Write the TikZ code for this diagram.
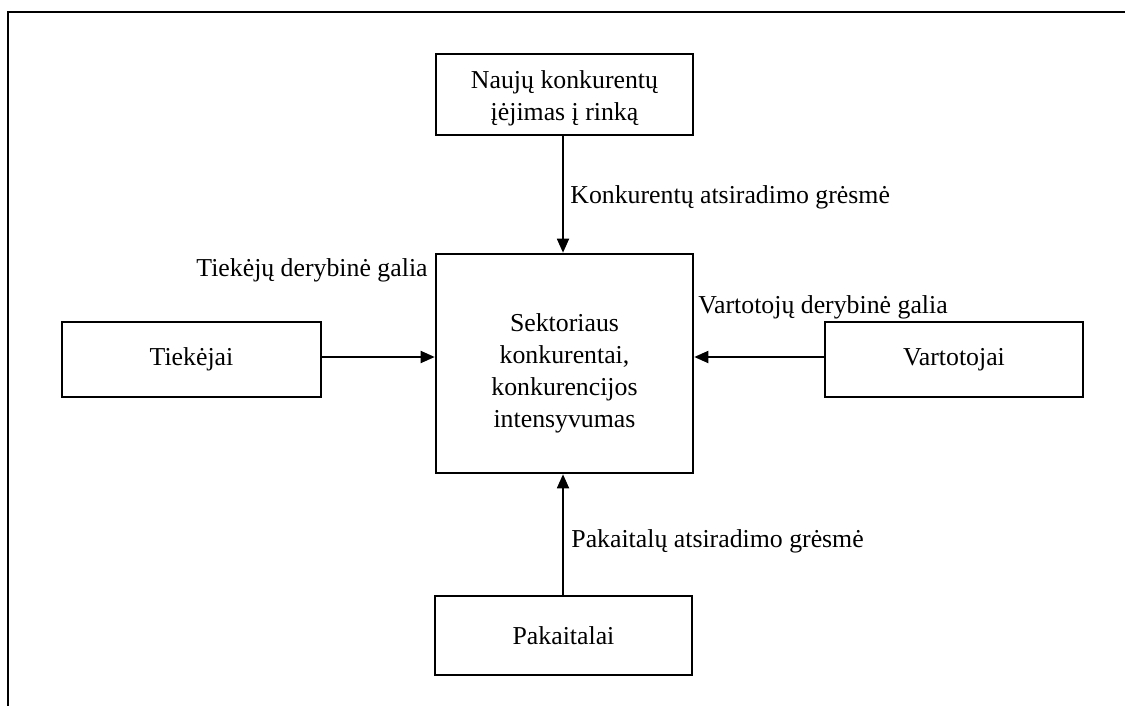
\documentclass[tikz,border=0pt]{standalone}
\usepackage{fontspec}
\setmainfont{Liberation Serif}
\usetikzlibrary{arrows.meta}
% centred lines, drawn a little lower than their box's middle
\newcommand{\lowlines}[2]{\raisebox{-#1}[\height][\depth]{\begin{tabular}{@{}c@{}}#2\end{tabular}}}
\begin{document}
\begin{tikzpicture}[x=0.5pt,y=-0.5pt,
  box/.style={draw,line width=1.3pt,align=center,inner sep=0pt,
    font=\fontsize{12.9}{16}\selectfont},
  lbl/.style={inner sep=0pt,font=\fontsize{12.9}{16}\selectfont},
  arr/.style={line width=0.9pt,-{Triangle[length=7pt,width=6pt]}}]
\useasboundingbox (0,0) rectangle (1125,706);
% open frame: top rule and left rule
\draw[line width=1.2pt] (8,706) -- (8,12) -- (1125,12);
% the five forces
\node[box,minimum width=128.5pt,minimum height=40.5pt] (naujuju) at (564.5,94.5)
  {\lowlines{2pt}{Naujų konkurentų\\įėjimas į rinką}};
\node[box,minimum width=128.5pt,minimum height=109.5pt] (sekt) at (564.5,363.5)
  {\lowlines{5pt}{Sektoriaus\\konkurentai,\\konkurencijos\\intensyvumas}};
\node[box,minimum width=129.5pt,minimum height=37.5pt] (tiek) at (191.5,359.5) {Tiekėjai};
\node[box,minimum width=129pt,minimum height=37.5pt] (vart) at (954,359.5) {Vartotojai};
\node[box,minimum width=128.5pt,minimum height=39.5pt] (pak) at (563.5,635.5) {Pakaitalai};
% influences on the sector
\draw[arr] (naujuju.south -| 563,0) -- (sekt.north -| 563,0);
\draw[arr] (pak.north -| 563,0) -- (sekt.south -| 563,0);
\draw[arr] (tiek.east |- 0,357) -- (sekt.west |- 0,357);
\draw[arr] (vart.west |- 0,357) -- (sekt.east |- 0,357);
% labels
\node[lbl,anchor=west] (l1) at (570,197) {Konkurentų atsiradimo grėsmė};
\node[lbl,anchor=east] (l2) at (428,270) {Tiekėjų derybinė galia};
\node[lbl,anchor=west] (l3) at (698,307) {Vartotojų derybinė galia};
\node[lbl,anchor=west] (l4) at (571,541) {Pakaitalų atsiradimo grėsmė};
\end{tikzpicture}
\end{document}
